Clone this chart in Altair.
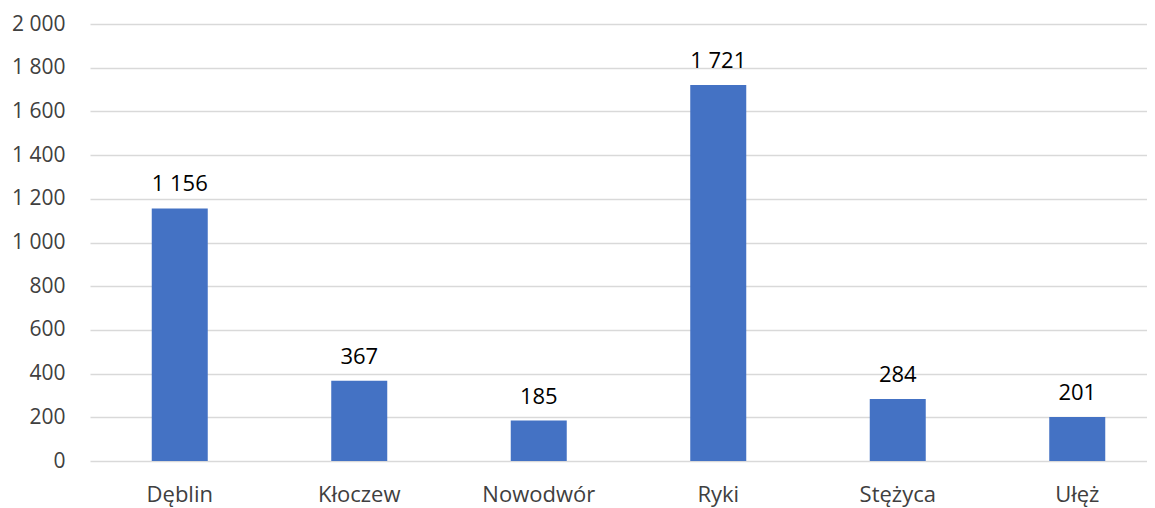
import altair as alt
import pandas as pd

categories = ["Dęblin", "Kłoczew", "Nowodwór", "Ryki", "Stężyca", "Ułęż"]
values = [1156, 367, 185, 1721, 284, 201]

df = pd.DataFrame({"gmina": categories, "value": values})

FONT = "Open Sans"

base = alt.Chart(df).encode(
    x=alt.X("gmina:N", sort=categories, title=None,
            scale=alt.Scale(paddingInner=0.688, paddingOuter=0.344, range=[0, 1077]),
            axis=alt.Axis(labelAngle=0, ticks=False, domain=False,
                          labelFontSize=22, labelColor="#404040",
                          labelFont=FONT, labelPadding=23)),
    y=alt.Y("value:Q", title=None,
            scale=alt.Scale(domain=[0, 2000], nice=False),
            axis=alt.Axis(values=list(range(0, 2001, 200)), ticks=False, domain=False,
                          grid=True, gridColor="#d9d9d9", gridWidth=1.5,
                          labelFontSize=21, labelColor="#404040", labelFont=FONT,
                          labelPadding=25,
                          labelExpr="replace(format(datum.value, ','), ',', ' ')")),
)

bars = base.mark_bar(color="#4472C4")
labels = base.mark_text(dy=-24, fontSize=22, font=FONT, color="#000000").encode(
    text=alt.Text("label:N")
).transform_calculate(label="replace(format(datum.value, ','), ',', ' ')")

chart = (bars + labels).properties(
    width=1057, height=437,
    autosize=alt.AutoSizeParams(type="none"),
    padding={"left": 82, "top": 16, "right": 0, "bottom": 46},
).configure_view(stroke=None)

chart.save("out.html", embed_options={"renderer": "svg", "actions": False})
